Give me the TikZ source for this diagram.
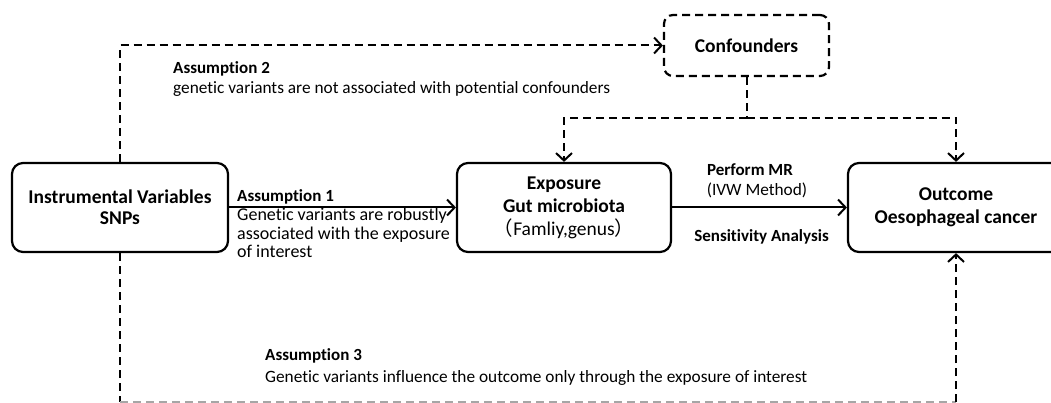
\documentclass[tikz,border=0pt]{standalone}
\usepackage{fontspec}
\setmainfont{Carlito}[Ligatures={NoCommon,NoRequired,NoContextual}]
\newfontfamily\cjk{Noto Sans CJK SC}
\usetikzlibrary{arrows.meta}
\begin{document}
\begin{tikzpicture}[x=1pt,y=-1pt,
  box/.style={draw, line width=2.2pt, rounded corners=11pt, inner sep=0pt, align=center,
    font=\fontsize{19.5}{23}\selectfont\bfseries},
  dbox/.style={box, dash pattern=on 8pt off 5pt},
  conn/.style={line width=2pt, -{Straight Barb[length=7.5pt,width=16pt]}},
  dconn/.style={conn, dash pattern=on 8pt off 5pt},
  dline/.style={line width=2pt, dash pattern=on 8pt off 5pt},
  lab/.style={anchor=base west, inner sep=0pt, font=\fontsize{17}{20}\selectfont\bfseries},
  txt/.style={anchor=base west, inner sep=0pt, font=\fontsize{17.3}{20}\selectfont},
]
\clip (0,0) rectangle (1051,403);
\fill[white] (0,0) rectangle (1051,403);

% boxes
\node[box, minimum width=216pt, minimum height=89pt, font=\fontsize{19.5}{21}\selectfont\bfseries] (iv) at (120,207.5) {Instrumental Variables\\SNPs};
\node[box, minimum width=214pt, minimum height=89pt] (exp) at (564,207.5) {Exposure\\Gut microbiota\\{\cjk\mdseries （}{\mdseries Famliy,genus}{\cjk\mdseries ）}};
\node[box, minimum width=216pt, minimum height=89pt] (out) at (956,207.5) {Outcome\\Oesophageal cancer};
\node[dbox, minimum width=165pt, minimum height=61pt, rounded corners=9pt] (conf) at (746.5,45.5) {Confounders};

% solid connectors
\draw[conn] (iv.east) -- (exp.west);
\draw[conn] (exp.east) -- (out.west);

% confounder connectors
\coordinate (j) at (conf.south |- 0,118);
\coordinate (jl) at (exp.north |- j);
\coordinate (jr) at (out.north |- j);
\draw[dline] (conf.south) -- (j);
\draw[dconn] (j) -- (jl) -- (exp.north);
\draw[dconn] (j) -- (jr) -- (out.north);

% assumption 2
\draw[dconn] (iv.north) |- (conf.west);

% assumption 3
\coordinate (bl) at (iv.south |- 0,402);
\coordinate (br) at (out.south |- 0,402);
\draw[dline] (iv.south) -- (bl);
\draw[dline, gray!70] (bl) -- (br);
\draw[dconn] (br) -- (out.south);

% labels
\node[lab] (a2h) at (173,73.5) {Assumption 2};
\node[txt] (a2t) at (173,93.5) {genetic variants are not associated with potential confounders};
\node[lab] (a1h) at (237,201.5) {Assumption 1};
\node[txt, font=\fontsize{18}{20}\selectfont] (a1t1) at (237,221) {Genetic variants are robustly};
\node[txt, font=\fontsize{18}{20}\selectfont] (a1t2) at (237,240) {associated with the exposure};
\node[txt, font=\fontsize{18}{20}\selectfont] (a1t3) at (237,258) {of interest};
\node[lab, anchor=base] (pmr) at (750,175.5) {Perform MR};
\node[txt, anchor=base] (ivw) at (757,196) {(IVW Method)};
\node[lab, anchor=base] (sa) at (761.5,241.5) {Sensitivity Analysis};
\node[lab] (a3h) at (265,360.5) {Assumption 3};
\node[txt] (a3t) at (265,382) {Genetic variants influence the outcome only through the exposure of interest};
\end{tikzpicture}
\end{document}
